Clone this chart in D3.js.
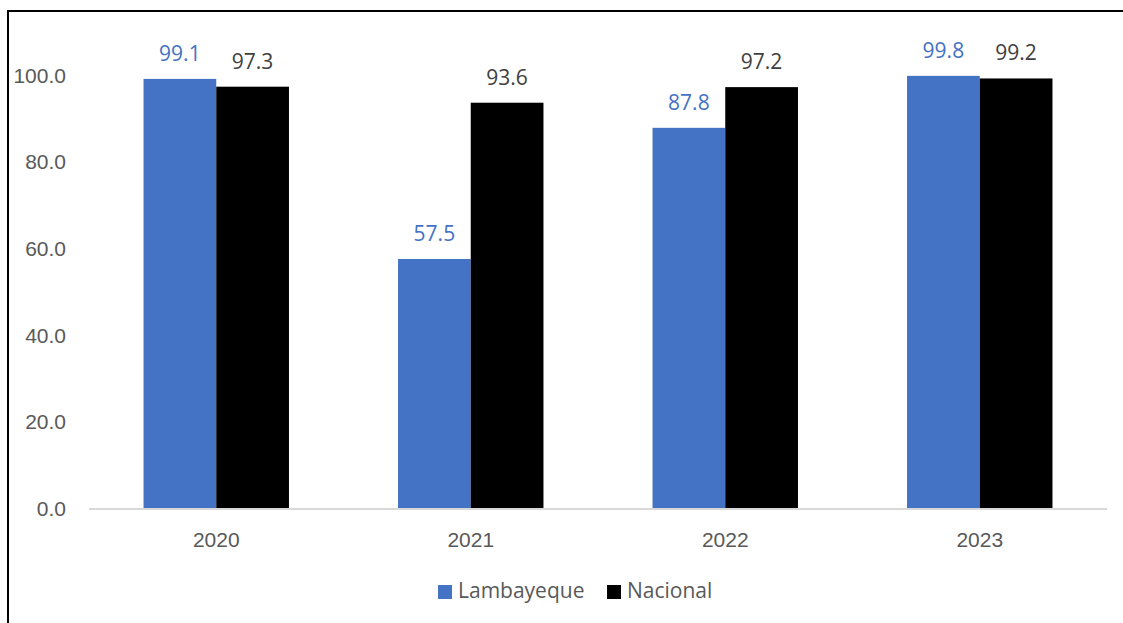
<!DOCTYPE html>
<html>
<head>
<meta charset="utf-8">
<style>
  body { margin: 0; background: #fff; }
  svg { display: block; font-family: "Open Sans", sans-serif; }
  .axis path, .axis line { display: none; }
  .axis text { fill: #595959; font-size: 21px; }
</style>
<script src="https://d3js.org/d3.v7.min.js"></script>
</head>
<body>
<div id="chart"></div>
<script>
  var years = ["2020", "2021", "2022", "2023"];
  var seriesNames = ["Lambayeque", "Nacional"];
  var lambayeque = [99.1, 57.5, 87.8, 99.8];
  var nacional = [97.3, 93.6, 97.2, 99.2];
  var yTicks = [0, 20, 40, 60, 80, 100];

  var colors = ["#4472c4", "#000000"];
  var labelColors = ["#4472c4", "#404040"];

  var W = 1123, H = 623;
  var plot = { left: 89, right: 1107, top: 75, bottom: 508 };

  var svg = d3.select("#chart").append("svg")
    .attr("width", W)
    .attr("height", H);

  // outer frame (runs off the right and bottom edge in the original)
  svg.append("rect")
    .attr("x", 8).attr("y", 11)
    .attr("width", 1200).attr("height", 700)
    .attr("fill", "none")
    .attr("stroke", "#000")
    .attr("stroke-width", 2);

  // gap width 150%: bar = band / 3.5
  var x0 = d3.scaleBand().domain(years).range([plot.left, plot.right]).padding(0);
  var barW = x0.bandwidth() / 3.5;
  var x1 = d3.scaleBand().domain(seriesNames)
    .range([x0.bandwidth() / 2 - barW, x0.bandwidth() / 2 + barW]);

  var y = d3.scaleLinear().domain([0, 100]).range([plot.bottom, plot.top]);

  // y axis labels
  var yAxis = d3.axisLeft(y).tickValues(yTicks).tickFormat(d3.format(".1f")).tickSize(0).tickPadding(0);
  svg.append("g")
    .attr("class", "y axis")
    .attr("transform", "translate(66,0)")
    .call(yAxis)
    .selectAll("text").attr("dy", "0.35em");

  var data = years.map(function(yr, i) {
    return { year: yr, values: [lambayeque[i], nacional[i]] };
  });

  var groups = svg.selectAll(".grp").data(data).enter().append("g")
    .attr("class", "grp")
    .attr("transform", function(d) { return "translate(" + x0(d.year) + ",0)"; });

  groups.selectAll("rect").data(function(d) {
    return d.values.map(function(v, j) { return { name: seriesNames[j], v: v, j: j }; });
  }).enter().append("rect")
    .attr("x", function(d) { return x1(d.name); })
    .attr("width", x1.bandwidth())
    .attr("y", function(d) { return y(d.v); })
    .attr("height", function(d) { return y(0) - y(d.v); })
    .attr("fill", function(d) { return colors[d.j]; });

  groups.selectAll("text.lbl").data(function(d) {
    return d.values.map(function(v, j) { return { name: seriesNames[j], v: v, j: j }; });
  }).enter().append("text")
    .attr("class", "lbl")
    .attr("x", function(d) { return x1(d.name) + x1.bandwidth() / 2; })
    .attr("y", function(d) { return y(d.v) - 18; })
    .attr("text-anchor", "middle")
    .attr("font-size", 21)
    .attr("fill", function(d) { return labelColors[d.j]; })
    .text(function(d) { return d3.format(".1f")(d.v); });

  // baseline
  svg.append("line")
    .attr("x1", plot.left).attr("x2", plot.right)
    .attr("y1", y(0) + 1).attr("y2", y(0) + 1)
    .attr("stroke", "#d9d9d9").attr("stroke-width", 2);

  // x axis labels
  var xAxis = d3.axisBottom(x0).tickSize(0).tickPadding(0);
  svg.append("g")
    .attr("class", "x axis")
    .attr("transform", "translate(0,547)")
    .call(xAxis)
    .selectAll("text").attr("dy", "0");

  // legend
  var legend = svg.append("g").attr("transform", "translate(438,585)");
  var legX = [0, 169];
  seriesNames.forEach(function(name, i) {
    var g = legend.append("g").attr("transform", "translate(" + legX[i] + ",0)");
    g.append("rect").attr("width", 14).attr("height", 14).attr("fill", colors[i]);
    g.append("text").attr("x", 20).attr("y", 13)
      .attr("font-size", 21).attr("fill", "#595959").text(name);
  });
</script>
</body>
</html>
